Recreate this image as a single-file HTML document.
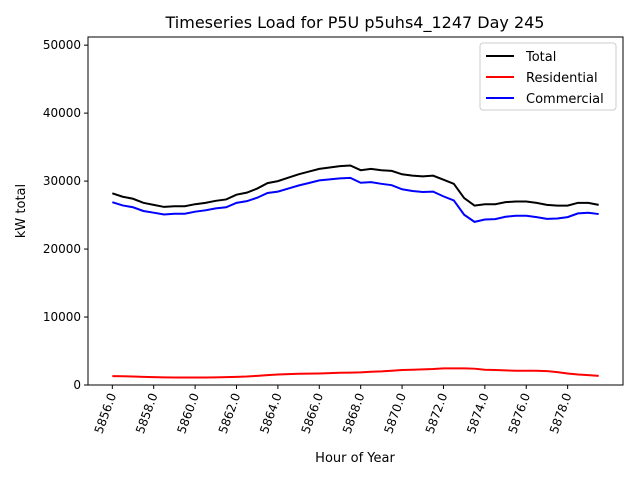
<!DOCTYPE html>
<html><head><meta charset="utf-8"><style>
body{margin:0;background:#fff;font-family:"Liberation Sans","DejaVu Sans",sans-serif}
</style></head><body>
<svg id="chart" width="640" height="480" xmlns="http://www.w3.org/2000/svg" font-family="DejaVu Sans, Liberation Sans, sans-serif">
<rect width="640" height="480" fill="#fff"/>
<text x="355" y="28" font-size="16" text-anchor="middle">Timeseries Load for P5U p5uhs4_1247  Day 245</text>
<g id="plot"></g>
<text transform="translate(25,211) rotate(-90)" font-size="13" text-anchor="middle">kW total</text>
<text x="355" y="462" font-size="13" text-anchor="middle">Hour of Year</text>
</svg>
<script>
const hours=[];for(let i=0;i<48;i++)hours.push(5856+i*0.5);
const total=[28200,27700,27400,26800,26500,26200,26300,26300,26600,26800,27100,27300,28000,28300,28900,29700,30000,30500,31000,31400,31800,32000,32200,32300,31600,31800,31600,31500,31000,30800,30700,30800,30200,29600,27500,26400,26600,26600,26900,27000,27000,26800,26500,26400,26400,26800,26800,26500];
const residential=[1300,1280,1250,1200,1150,1120,1100,1100,1100,1100,1120,1150,1200,1250,1350,1450,1550,1600,1650,1680,1700,1750,1800,1820,1850,1950,2000,2100,2200,2250,2300,2350,2450,2450,2450,2400,2250,2200,2150,2100,2100,2100,2050,1900,1700,1550,1450,1350];
const commercial=[26900,26420,26150,25600,25350,25080,25200,25200,25500,25700,25980,26150,26800,27050,27550,28250,28450,28900,29350,29720,30100,30250,30400,30480,29750,29850,29600,29400,28800,28550,28400,28450,27750,27150,25050,24000,24350,24400,24750,24900,24900,24700,24450,24500,24700,25250,25350,25150];
const yTicks=[0,10000,20000,30000,40000,50000];
const xTicks=[5856,5858,5860,5862,5864,5866,5868,5870,5872,5874,5876,5878];
const L=88,T=37,W=535,H=348;
const xmin=5856-23.5*0.05,xmax=5879.5+23.5*0.05,ymin=0,ymax=51200;
const sx=v=>L+(v-xmin)/(xmax-xmin)*W, sy=v=>T+H-(v-ymin)/(ymax-ymin)*H;
const NS="http://www.w3.org/2000/svg",g=document.getElementById('plot');
function mk(t,a){const e=document.createElementNS(NS,t);for(const k in a)e.setAttribute(k,a[k]);g.appendChild(e);return e;}
function series(vals,color,name){
  const p=mk('polyline',{points:vals.map((v,i)=>sx(hours[i])+','+sy(v)).join(' '),fill:'none',stroke:color,'stroke-width':2});
  
  
}
series(total,'#000','total-line');
series(residential,'#f00','residential-line');
series(commercial,'#00f','commercial-line');
const fr=mk('rect',{x:L,y:T,width:W,height:H,fill:'none',stroke:'#000','stroke-width':1});


yTicks.forEach(v=>{
  mk('line',{x1:L-4,x2:L,y1:sy(v),y2:sy(v),stroke:'#000'});
  const t=mk('text',{x:L-7,y:sy(v)+4,'font-size':12,'text-anchor':'end'});t.textContent=v;
  
  
});
xTicks.forEach(v=>{
  const x=sx(v);
  mk('line',{x1:x,x2:x,y1:T+H,y2:T+H+4,stroke:'#000'});
  const t=mk('text',{transform:`translate(${x+4},${T+H+10}) rotate(-70)`,'font-size':12,'text-anchor':'end'});t.textContent=v.toFixed(1);
  
  
});
const lg=mk('rect',{x:480,y:43,width:136,height:67,fill:'#fff',stroke:'#ccc',rx:3});


[['Total','#000'],['Residential','#f00'],['Commercial','#00f']].forEach((d,i)=>{
  const y=56+i*21;
  mk('line',{x1:486,x2:514,y1:y,y2:y,stroke:d[1],'stroke-width':2});
  const t=mk('text',{x:526,y:y+5,'font-size':13});t.textContent=d[0];
  
  
});
</script>
</body></html>
